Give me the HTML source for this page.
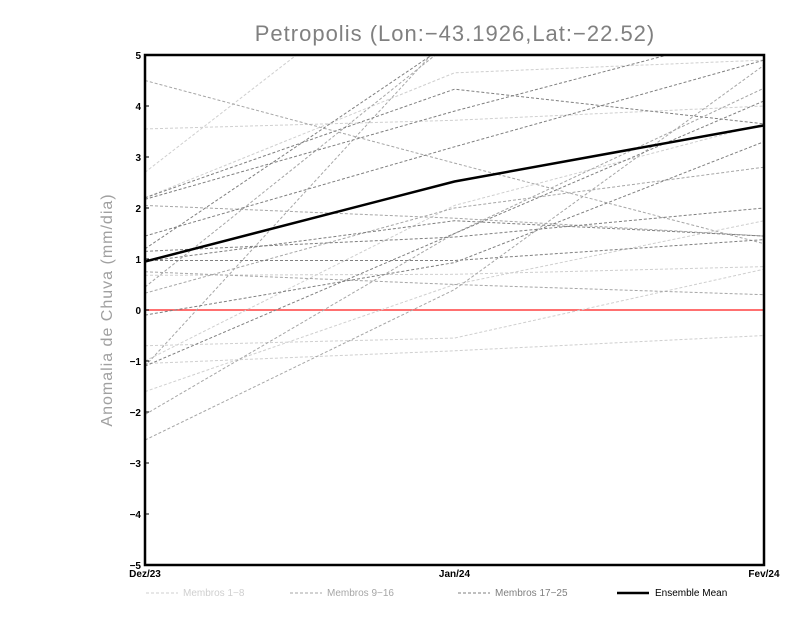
<!DOCTYPE html>
<html><head><meta charset="utf-8"><style>
body{margin:0;background:#fff;}
svg{display:block;font-family:"Liberation Sans",sans-serif;}
</style></head><body>
<svg width="800" height="618">
<g id="clip-g"></g>
</svg>
<script>
const categories=["Dez/23","Jan/24","Fev/24"];
const yTicks=[5,4,3,2,1,0,-1,-2,-3,-4,-5];
const light=[[2.7,7.4,7],[3.55,3.72,4.0],[2.2,4.65,4.9],[-0.7,-0.55,0.8],[-1.05,-0.8,-0.5],[0.68,0.7,0.85],[-1.6,0.5,1.75],[-1.0,2.05,3.65]];
const medium=[[4.5,2.88,1.3],[2.05,1.8,1.45],[-1.1,5.5,7],[-2.55,0.4,4.8],[0.45,5.3,7],[0.75,0.5,0.3],[-2.05,1.5,4.35],[0.33,2.0,2.8]];
const dark=[[1.2,5.3,7],[1.45,3.2,4.9],[2.17,3.9,5.5],[1.15,1.43,2.0],[0.97,0.97,1.38],[-0.1,0.93,3.3],[0.95,1.75,1.45],[2.2,4.33,3.65],[-1.1,1.5,4.1]];
const ensembleMean=[0.95,2.52,3.62];
const NS="http://www.w3.org/2000/svg";
const svg=document.querySelector("svg");
const X0=145,X1=764,Y0=565,Y1=55;
const xs=i=>X0+(X1-X0)*i/(categories.length-1);
const ys=v=>Y0-(v+5)/10*(Y0-Y1);
function mk(t,a,p){const e=document.createElementNS(NS,t);for(const k in a)e.setAttribute(k,a[k]);(p||svg).appendChild(e);return e;}
const defs=mk("defs",{});const cp=mk("clipPath",{id:"c"},defs);mk("rect",{x:X0,y:Y1,width:X1-X0,height:Y0-Y1},cp);
const g=mk("g",{"clip-path":"url(#c)"});
function series(arr,col,name,dash,w){arr.forEach((d,j)=>{const p=mk("polyline",{points:d.map((v,i)=>xs(i)+","+ys(v)).join(" "),fill:"none",stroke:col,"stroke-width":w,"stroke-dasharray":dash},g);

});}
const z=mk("line",{x1:X0,x2:X1,y1:ys(0),y2:ys(0),stroke:"#ff4040","stroke-width":1.5},g);


series(light,"#cfcfcf","member-light","3,2",1);
series(medium,"#a6a6a6","member-medium","3,2",1);
series(dark,"#7f7f7f","member-dark","3,2",1);
series([ensembleMean],"#000","ensemble-mean","none",2.5);
const fr=mk("rect",{x:X0,y:Y1,width:X1-X0,height:Y0-Y1,fill:"none",stroke:"#000","stroke-width":2.5});


yTicks.forEach(v=>{const t=mk("text",{x:X0-4,y:ys(v)+4,"text-anchor":"end","font-size":10,"font-weight":"bold"});t.textContent=v<0?"−"+(-v):v;


const l=mk("line",{x1:X0,x2:X0+4,y1:ys(v),y2:ys(v),stroke:"#000"});

});
categories.forEach((c,i)=>{const t=mk("text",{x:xs(i),y:577,"text-anchor":"middle","font-size":10,"font-weight":"bold"});t.textContent=c;

});
</script>
<svg style="position:absolute;left:0;top:0" width="800" height="618">
<text x="455" y="41" text-anchor="middle" font-size="22" fill="#808080" letter-spacing="1" font-family="Liberation Sans,sans-serif">Petropolis (Lon:−43.1926,Lat:−22.52)</text>
<text transform="translate(112,310) rotate(-90)" text-anchor="middle" font-size="16" fill="#a0a0a0" letter-spacing="1" font-family="Liberation Sans,sans-serif">Anomalia de Chuva (mm/dia)</text>
<g font-size="10" font-family="Liberation Sans,sans-serif">
<line x1="146" x2="178" y1="593" y2="593" stroke="#cfcfcf" stroke-dasharray="3,2"/>
<text x="183" y="596" fill="#cfcfcf">Membros 1−8</text>
<line x1="290" x2="322" y1="593" y2="593" stroke="#a6a6a6" stroke-dasharray="3,2"/>
<text x="327" y="596" fill="#a6a6a6">Membros 9−16</text>
<line x1="458" x2="490" y1="593" y2="593" stroke="#7f7f7f" stroke-dasharray="3,2"/>
<text x="495" y="596" fill="#7f7f7f">Membros 17−25</text>
<line x1="617" x2="649" y1="593" y2="593" stroke="#000" stroke-width="2.5"/>
<text x="655" y="596" fill="#000">Ensemble Mean</text>
</g>
</svg>
</body></html>
